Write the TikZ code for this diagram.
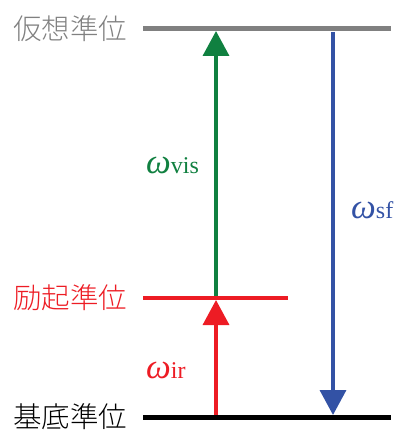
\documentclass[tikz,border=0pt]{standalone}
\usepackage{fontspec}
\setmainfont{Liberation Serif}
\newfontfamily\jpfont[UprightFont={* Light}]{Noto Sans CJK JP}
\usetikzlibrary{arrows.meta}
\definecolor{levelgray}{RGB}{128,128,128}
\definecolor{visgreen}{RGB}{16,128,64}
\definecolor{irred}{RGB}{237,28,36}
\definecolor{sfblue}{RGB}{51,82,165}
\newcommand{\omg}[1]{{\fontsize{35}{35}\selectfont\itshape ω}{\fontsize{24}{24}\selectfont #1}}
\begin{document}
\begin{tikzpicture}[x=1pt,y=-1pt,line cap=butt,
  levelline/.style={line width=5pt},
  levellabel/.style={left=12pt,font=\jpfont\fontsize{28.5}{28.5}\selectfont},
  transition/.style={line width=3.5pt,-{Triangle[width=26pt,length=25pt]}}]
  \useasboundingbox (0,0) rectangle (398,433);
  \coordinate (V1) at (143,29);
  \coordinate (V2) at (391,29);
  \coordinate (E1) at (143,298);
  \coordinate (E2) at (288,298);
  \coordinate (G1) at (143,417);
  \coordinate (G2) at (391,417);
  \draw[levelline,levelgray] (V1) -- (V2);
  \draw[levelline,irred,line width=4pt] (E1) -- (E2);
  \draw[levelline,black] (G1) -- (G2);
  \node[levellabel,text=levelgray] (vlab) at (V1) {仮想準位};
  \node[levellabel,text=irred] (elab) at (E1) {励起準位};
  \node[levellabel,text=black] (glab) at (G1) {基底準位};
  % transitions
  \coordinate (visA) at (216,296);
  \coordinate (visB) at (216,31);
  \coordinate (irA) at (216,415);
  \coordinate (irB) at (216,300);
  \coordinate (sfA) at (333,32);
  \coordinate (sfB) at (333,415);
  \draw[transition,visgreen] (visA) -- (visB);
  \draw[transition,irred] (irA) -- (irB);
  \draw[transition,sfblue] (sfA) -- (sfB);
  \node[anchor=west,text=visgreen,inner sep=0pt] (vislab) at (146,165) {\omg{vis}};
  \node[anchor=west,text=irred,inner sep=0pt] (irlab) at (146,370) {\omg{ir}};
  \node[anchor=west,text=sfblue,inner sep=0pt] (sflab) at (351,210) {\omg{sf}};
\end{tikzpicture}
\end{document}
